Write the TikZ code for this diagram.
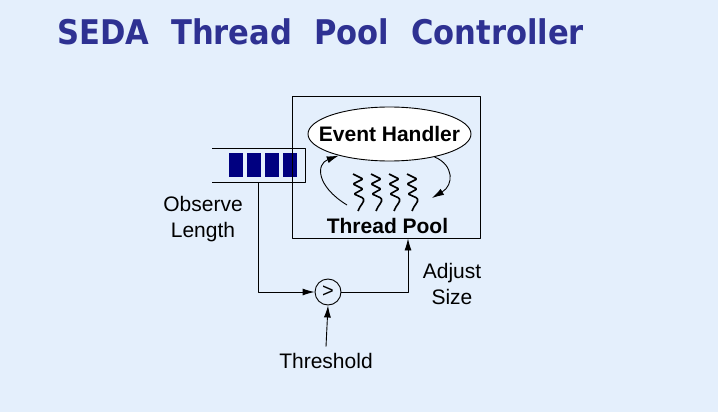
\documentclass[tikz,border=0pt]{standalone}
\usepackage{fontspec}
\setmainfont{Liberation Sans}
\newfontfamily\titlefont[FakeStretch=0.9]{DejaVu Sans}
\usetikzlibrary{arrows.meta,shapes.geometric}
\definecolor{slidebg}{RGB}{228,239,252}
\definecolor{titleblue}{RGB}{46,49,146}
\definecolor{slotblue}{RGB}{0,0,128}
\begin{document}
\begin{tikzpicture}[x=1pt,y=-1pt,line join=round,
  arr/.style={line width=0.9pt,-{Latex[length=12pt,width=7pt]}},
  lbl/.style={font=\fontsize{21}{26}\selectfont,inner sep=0pt,align=center},
  boldlbl/.style={font=\fontsize{21}{26}\selectfont\bfseries,inner sep=0pt}]
  \fill[slidebg] (0,0) rectangle (718,412);
  \useasboundingbox (0,0) rectangle (718,412);
  % title
  \node[anchor=base west,inner sep=0pt,text=titleblue,
    font=\titlefont\fontsize{34}{40}\selectfont\bfseries] (title) at (57,45)
    {SEDA\hspace{22pt}Thread\hspace{22pt}Pool\hspace{22pt}Controller};
  % queue
  \draw[line width=0.9pt] (212,148) -- (305,148) -- (305,182) -- (212,182);
  \foreach \x in {229,247,265,283}
    \fill[slotblue] (\x,153) rectangle ++(14,24);
  \coordinate (qout) at (258,182);
  % stage box
  \node[draw,line width=0.9pt,minimum width=188pt,minimum height=142pt,inner sep=0pt] (pool) at (386,167) {};
  \node[draw,ellipse,line width=0.9pt,fill=white,minimum width=163pt,minimum height=54pt,
    inner sep=0pt,label={[boldlbl]center:Event Handler}] (handler) at (389.5,134) {};
  \node[boldlbl,anchor=base] (tpool) at (387.5,233) {Thread Pool};
  \foreach \x in {353,371,389,407}
    \draw[line width=1.6pt,rounded corners=1pt] (\x,174) -- (\x+10,179) -- (\x,184)
      -- (\x+10,189) -- (\x+1,194) -- (\x+10,198) .. controls (\x+12,202) and (\x+7,205) .. (\x+5,211);
  \coordinate (loopin) at (347,205);
  \coordinate (loopout) at (432,198);
  \draw[arr] (loopin) .. controls (316,186) and (316,164) .. (handler.203);
  \draw[arr] (handler.333) .. controls (454,165) and (454,185) .. (loopout);
  % controller
  \node[draw,circle,line width=0.9pt,minimum size=26pt,inner sep=0pt,
    font=\fontsize{20}{20}\selectfont] (cmp) at (328,292) {>};
  \node[lbl,anchor=base] (thr) at (326,368) {Threshold};
  \node[lbl] (obs) at (203,219.5) {Observe\\Length};
  \node[lbl] (adj) at (452,283.5) {Adjust\\Size};
  \draw[arr] (qout) |- (cmp.west);
  \draw[arr] (cmp.east) -| ([xshift=22pt]pool.south);
  \draw[arr] ([yshift=6pt]thr.north) -- (cmp.south);
\end{tikzpicture}
\end{document}
